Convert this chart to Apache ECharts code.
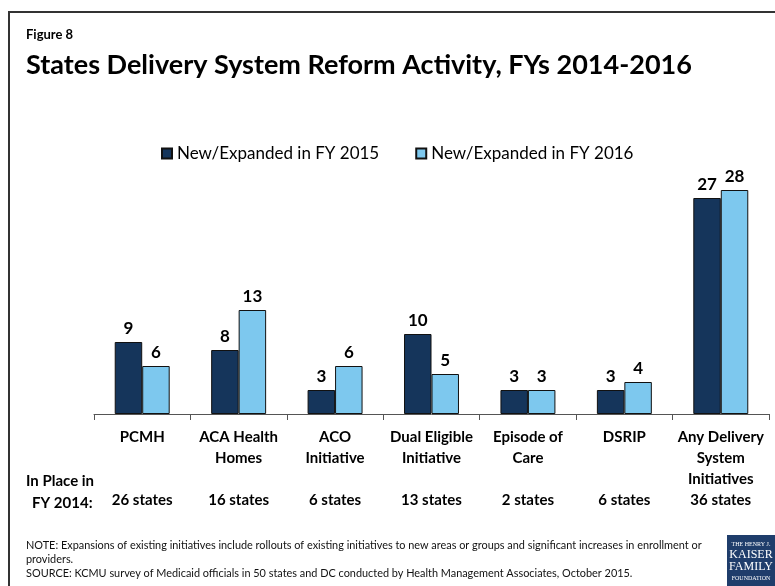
<!DOCTYPE html>
<html>
<head>
<meta charset="utf-8">
<script src="https://cdn.jsdelivr.net/npm/echarts@6/dist/echarts.min.js"></script>
<style>
  html, body { margin: 0; padding: 0; background: #fff; }
  #chart { width: 775px; height: 586px; }
</style>
</head>
<body>
<div id="chart"></div>
<script>
// data
var categories = ['PCMH', 'ACA Health\nHomes', 'ACO\nInitiative', 'Dual Eligible\nInitiative',
  'Episode of\nCare', 'DSRIP', 'Any Delivery\nSystem\nInitiatives'];
var fy2015 = [9, 8, 3, 10, 3, 3, 27];
var fy2016 = [6, 13, 6, 5, 3, 4, 28];
var inPlace2014 = ['26 states', '16 states', '6 states', '13 states', '2 states', '6 states', '36 states'];
var seriesNames = ['New/Expanded in FY 2015', 'New/Expanded in FY 2016'];

var FONT = 'Lato, "Open Sans", sans-serif';
var darkBlue = '#15355b';
var lightBlue = '#7dc8ee';

var chartDom = document.getElementById('chart');
var myChart = echarts.init(chartDom);

var option = {
  backgroundColor: '#fff',
  animation: false,
  textStyle: { fontFamily: FONT },
  grid: { left: 94, right: 6, top: 174, bottom: 172 },
  legend: {
    data: seriesNames,
    top: 140,
    left: 156,
    itemWidth: 10,
    itemHeight: 10,
    itemGap: 36,
    icon: 'rect',
    textStyle: { fontSize: 17, color: '#000', fontFamily: FONT }
  },
  xAxis: [
    {
      type: 'category',
      data: categories,
      axisLine: { lineStyle: { color: '#555', width: 1 } },
      axisTick: { show: true, length: 6, lineStyle: { color: '#555' } },
      axisLabel: {
        interval: 0,
        margin: 13,
        color: '#000',
        fontWeight: 'bold',
        fontSize: 15,
        lineHeight: 21,
        fontFamily: FONT
      }
    },
    {
      type: 'category',
      data: inPlace2014,
      position: 'bottom',
      axisLine: { show: false },
      axisTick: { show: false },
      axisLabel: {
        interval: 0,
        margin: 79,
        color: '#000',
        fontWeight: 'bold',
        fontSize: 15,
        fontFamily: FONT
      }
    }
  ],
  yAxis: {
    type: 'value',
    min: 0,
    max: 30,
    show: false,
    splitLine: { show: false }
  },
  series: [
    {
      name: seriesNames[0],
      type: 'bar',
      data: fy2015,
      barGap: '0%',
      barCategoryGap: '43%',
      itemStyle: { color: darkBlue, borderColor: '#111', borderWidth: 1 },
      label: {
        show: true, position: 'top', distance: 5,
        color: '#000', fontWeight: 'bold', fontSize: 17, fontFamily: FONT
      }
    },
    {
      name: seriesNames[1],
      type: 'bar',
      data: fy2016,
      itemStyle: { color: lightBlue, borderColor: '#111', borderWidth: 1 },
      label: {
        show: true, position: 'top', distance: 5,
        color: '#000', fontWeight: 'bold', fontSize: 17, fontFamily: FONT
      }
    }
  ],
  graphic: [
    // frame, open at right and bottom like the cropped slide
    {
      type: 'polyline',
      shape: { points: [[9, 600], [9, 12], [790, 12]] },
      style: { stroke: '#333', lineWidth: 2, fill: null }
    },
    {
      type: 'text', left: 26, top: 28,
      style: { text: 'Figure 8', font: 'bold 13px ' + FONT, fill: '#000' }
    },
    {
      type: 'text', left: 26, top: 52,
      style: { text: 'States Delivery System Reform Activity, FYs 2014-2016', font: 'bold 27px ' + FONT, fill: '#000' }
    },
    {
      type: 'text', left: 26, top: 474,
      style: { text: 'In Place in', font: 'bold 15px ' + FONT, fill: '#000' }
    },
    {
      type: 'text', left: 32, top: 496,
      style: { text: 'FY 2014:', font: 'bold 15px ' + FONT, fill: '#000' }
    },
    {
      type: 'text', left: 26, top: 538,
      style: {
        text: 'NOTE: Expansions of existing initiatives include rollouts of existing initiatives to new areas or groups and significant increases in enrollment or\nproviders.\nSOURCE: KCMU survey of Medicaid officials in 50 states and DC conducted by Health Management Associates, October 2015.',
        font: '10.9px ' + FONT, lineHeight: 14, fill: '#111'
      }
    },
    // foundation logo
    {
      type: 'group', left: 727, top: 535,
      children: [
        { type: 'rect', shape: { x: 0, y: 0, width: 48, height: 51 }, style: { fill: '#1f3d6b' } },
        { type: 'text', x: 24, y: 6, style: { text: 'THE HENRY J.', font: '6px serif', fill: '#fff', align: 'center' } },
        { type: 'text', x: 24, y: 14, style: { text: 'KAISER', font: '12px serif', fill: '#fff', align: 'center' } },
        { type: 'text', x: 24, y: 26, style: { text: 'FAMILY', font: '12px serif', fill: '#fff', align: 'center' } },
        { type: 'text', x: 24, y: 40, style: { text: 'FOUNDATION', font: '6px serif', fill: '#fff', align: 'center' } }
      ]
    }
  ]
};

option && myChart.setOption(option);
</script>
</body>
</html>
